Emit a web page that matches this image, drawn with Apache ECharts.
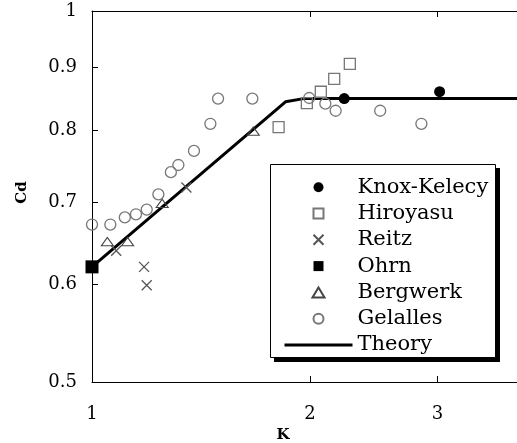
<!DOCTYPE html>
<html><head><meta charset="utf-8">
<script src="https://cdn.jsdelivr.net/npm/echarts@6/dist/echarts.min.js"></script>
<style>html,body{margin:0;padding:0;background:#fff}#c{width:517px;height:443px}</style>
</head><body><div id="c"></div>
<script>
const xTickLabels = [1, 2, 3];
const yTickLabels = [0.5, 0.6, 0.7, 0.8, 0.9, 1];
const seriesNames = ['Knox-Kelecy', 'Hiroyasu', 'Reitz', 'Ohrn', 'Bergwerk', 'Gelalles', 'Theory'];
const knoxKelecy = [[2.23, 0.849], [3.02, 0.860]];
const hiroyasu = [[1.81, 0.805], [1.98, 0.842], [2.07, 0.860], [2.16, 0.881], [2.27, 0.906]];
const reitz = [[1.08, 0.639], [1.18, 0.620], [1.19, 0.599], [1.35, 0.719]];
const ohrn = [[1.0, 0.62]];
const bergwerk = [[1.05, 0.650], [1.12, 0.650], [1.25, 0.698], [1.67, 0.799]];
const gelalles = [[1.0, 0.671], [1.06, 0.671], [1.11, 0.680], [1.15, 0.684], [1.19, 0.690], [1.235, 0.710],
  [1.285, 0.740], [1.316, 0.750], [1.383, 0.770], [1.457, 0.810], [1.493, 0.849], [1.665, 0.849],
  [1.995, 0.850], [2.10, 0.841], [2.17, 0.830], [2.50, 0.830], [2.85, 0.810]];
const theory = [[1.0, 0.62], [1.85, 0.844], [1.96, 0.849], [4.0, 0.849]];

const FONT = 'DejaVu Serif';
const chart = echarts.init(document.getElementById('c'), null, {renderer: 'canvas'});
const fmt = v => String(Math.round(v * 10) / 10);
const tickStyle = {color: '#000', width: 1};
const clear = 'rgba(255,255,255,0)';
const SQUARE = 'path://M0,0L10,0L10,10L0,10Z';
const TRIANGLE = 'path://M6,0L12,10L0,10Z';
const CROSS = 'path://M0,0L10,10M10,0L0,10';
chart.setOption({
  animation: false,
  backgroundColor: '#fff',
  grid: {left: 92, top: 11, right: -11, bottom: 61, containLabel: false, outerBoundsMode: 'none'},
  xAxis: [{
    type: 'log', logBase: 10, min: 1, max: 4,
    axisLine: {lineStyle: {color: '#000', width: 1}},
    axisTick: {inside: true, length: 6, customValues: [2, 3], lineStyle: tickStyle},
    axisLabel: {customValues: xTickLabels, formatter: fmt, fontFamily: FONT, fontSize: 18, color: '#000', margin: 23},
    splitLine: {show: false}, minorTick: {show: false},
    name: 'K', nameLocation: 'middle', nameGap: 45,
    nameTextStyle: {fontFamily: FONT, fontWeight: 'bold', fontSize: 15, color: '#000', padding: [0, 54, 0, 0]}
  }, {
    type: 'log', logBase: 10, min: 1, max: 4, position: 'top',
    axisLine: {lineStyle: {color: '#000', width: 1}},
    axisTick: {inside: true, length: 6, customValues: [2, 3], lineStyle: tickStyle},
    axisLabel: {show: false}, splitLine: {show: false}
  }],
  yAxis: {
    type: 'log', logBase: 10, min: 0.5, max: 1,
    axisLine: {show: true, lineStyle: {color: '#000', width: 1}},
    axisTick: {show: true, inside: true, length: 6, customValues: [0.6, 0.7, 0.8, 0.9], lineStyle: tickStyle},
    axisLabel: {customValues: yTickLabels, formatter: fmt, fontFamily: FONT, fontSize: 18, color: '#000', margin: 15,
      padding: [6, 0, 0, 0]},
    splitLine: {show: false},
    name: 'Cd', nameLocation: 'middle', nameGap: 62, nameRotate: 90,
    nameTextStyle: {fontFamily: FONT, fontWeight: 'bold', fontSize: 15, color: '#000', padding: [0, 0, 0, 8]}
  },
  graphic: [
    {type: 'rect', z: 4, silent: true, shape: {x: 274, y: 168, width: 226, height: 194}, style: {fill: '#000'}},
    {type: 'rect', z: 4, silent: true, shape: {x: 270.5, y: 164.5, width: 225, height: 193},
      style: {fill: '#fff', stroke: '#000', lineWidth: 1}}
  ],
  legend: {
    orient: 'vertical', left: 270, top: 164, z: 6,
    padding: [12.7, 10, 9.5, 13], itemWidth: 68, itemHeight: 10, itemGap: 5.3,
    symbolKeepAspect: true,
    textStyle: {fontFamily: FONT, fontSize: 21, color: '#000', lineHeight: 20},
    data: seriesNames.slice(0, 6).concat([{name: 'Theory', lineStyle: {width: 3, color: '#000'}}])
  },
  series: [
    {name: 'Theory', type: 'line', data: theory, symbol: 'none', clip: false, z: 1,
      lineStyle: {color: '#000', width: 3}, itemStyle: {color: clear, borderWidth: 0}},
    {name: 'Knox-Kelecy', type: 'scatter', data: knoxKelecy, symbol: 'circle', symbolSize: 11, z: 3,
      symbolKeepAspect: true, itemStyle: {color: '#000', opacity: 1}},
    {name: 'Hiroyasu', type: 'scatter', data: hiroyasu, symbol: SQUARE, symbolSize: 11, z: 2,
      symbolKeepAspect: true,
      itemStyle: {color: clear, borderColor: '#777', borderWidth: 1.3, opacity: 1}},
    {name: 'Reitz', type: 'scatter', data: reitz, symbol: CROSS, symbolSize: 10, z: 2,
      symbolKeepAspect: true,
      itemStyle: {color: clear, borderColor: '#555', borderWidth: 1.3, opacity: 1}},
    {name: 'Ohrn', type: 'scatter', data: ohrn, symbol: SQUARE, symbolSize: 13, clip: false, z: 3,
      symbolKeepAspect: true, itemStyle: {color: '#000', opacity: 1}},
    {name: 'Bergwerk', type: 'scatter', data: bergwerk, symbol: TRIANGLE, symbolSize: [12, 10], z: 2,
      symbolKeepAspect: true,
      itemStyle: {color: clear, borderColor: '#444', borderWidth: 1.1, opacity: 1}},
    {name: 'Gelalles', type: 'scatter', data: gelalles, symbol: 'circle', symbolSize: 11, clip: false, z: 2,
      symbolKeepAspect: true,
      itemStyle: {color: clear, borderColor: '#777', borderWidth: 1.3, opacity: 1}}
  ]
});
</script></body></html>
